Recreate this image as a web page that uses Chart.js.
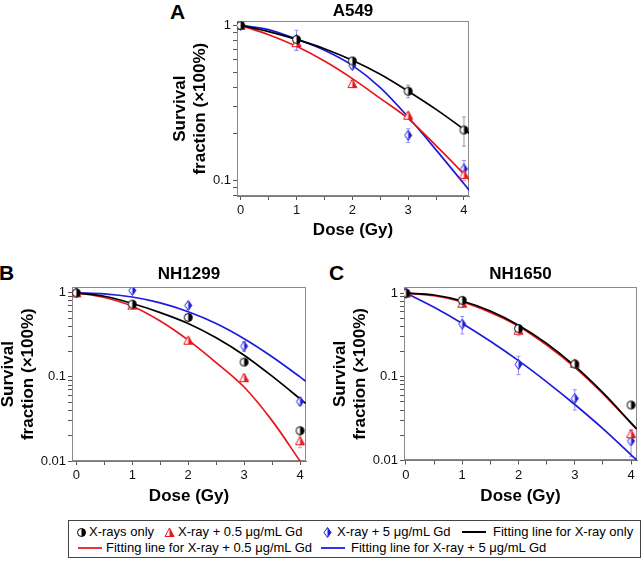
<!DOCTYPE html>
<html>
<head>
<meta charset="utf-8">
<script src="https://cdn.jsdelivr.net/npm/chart.js@4.4.1/dist/chart.umd.min.js"></script>
<style>
  body { margin: 0; background: #fff; width: 643px; height: 561px; position: relative; overflow: hidden;
         font-family: "Liberation Sans", Arial, sans-serif; color: #000; }
  .panel { position: absolute; }
  .letter { position: absolute; font-weight: bold; font-size: 21px; line-height: 21px; }
  .lg { position: absolute; font-size: 13px; line-height: 16px; white-space: nowrap; }
  .ln { position: absolute; height: 2px; width: 24px; }
  #legendBox { position: absolute; left: 68px; top: 520px; width: 571px; height: 36px; border: 1px solid #444; }
</style>
</head>
<body>

<div class="letter" style="left:170px;top:1px">A</div>
<div class="letter" style="left:-1px;top:262px">B</div>
<div class="letter" style="left:329px;top:262px">C</div>

<div class="panel" style="left:170px;top:0px"><canvas id="chartA" width="305" height="245"></canvas></div>
<div class="panel" style="left:-2px;top:264px"><canvas id="chartB" width="314" height="245"></canvas></div>
<div class="panel" style="left:330px;top:264px"><canvas id="chartC" width="313" height="245"></canvas></div>

<div id="legendBox"></div>
<div class="lg" style="left:89px;top:524px">X-rays only</div>
<div class="lg" style="left:178px;top:524px">X-ray + 0.5 μg/mL Gd</div>
<div class="lg" style="left:337px;top:524px">X-ray + 5 μg/mL Gd</div>
<div class="ln" style="left:462px;top:531px;background:#000"></div>
<div class="lg" style="left:493px;top:524px">Fitting line for X-ray only</div>
<div class="ln" style="left:78px;top:547px;background:#ee3333"></div>
<div class="lg" style="left:106px;top:540px">Fitting line for X-ray + 0.5 μg/mL Gd</div>
<div class="ln" style="left:321px;top:547px;background:#3333ee"></div>
<div class="lg" style="left:351px;top:540px">Fitting line for X-ray + 5 μg/mL Gd</div>

<script>
var FONT = '"Liberation Sans", Arial, sans-serif';

var doses = [0, 1, 2, 3, 4];
var fitDoses = [0, 0.5, 1, 1.5, 2, 2.5, 3, 3.5, 4, 4.1];
var xTicks = [0, 0.5, 1, 1.5, 2, 2.5, 3, 3.5, 4];
var yTicksA = [0.08, 0.09, 0.1, 0.2, 0.3, 0.4, 0.5, 0.6, 0.7, 0.8, 0.9, 1];
var yTicksBC = [0.01, 0.02, 0.03, 0.04, 0.05, 0.06, 0.07, 0.08, 0.09,
                0.1, 0.2, 0.3, 0.4, 0.5, 0.6, 0.7, 0.8, 0.9, 1];

// A549
var a549Xray = [1, 0.81, 0.59, 0.377, 0.212];
var a549XrayErr = [0.01, 0.03, 0.03, 0.035, 0.045];
var a549Low = [1, 0.774, 0.422, 0.264, 0.11];
var a549LowErr = [0, 0.08, 0.02, 0.01, 0.01];
var a549High = [1, 0.81, 0.553, 0.196, 0.119];
var a549HighErr = [0.01, 0.12, 0.03, 0.02, 0.016];
var a549XrayFit = [1, 0.912, 0.813, 0.708, 0.596, 0.484, 0.377, 0.288, 0.214, 0.201];
var a549LowFit = [1, 0.871, 0.733, 0.589, 0.454, 0.339, 0.251, 0.168, 0.11, 0.1007];
var a549HighFit = [1, 0.94, 0.815, 0.692, 0.553, 0.398, 0.257, 0.158, 0.0955, 0.0863];

// NH1299
var nh1299Xray = [1, 0.733, 0.509, 0.15, 0.0229];
var nh1299XrayErr = [0.02, 0.03, 0.03, 0.01, 0.002];
var nh1299Low = [1, 0.713, 0.273, 0.098, 0.0174];
var nh1299LowErr = [0.03, 0.06, 0.02, 0.008, 0.003];
var nh1299High = [1, 1.066, 0.707, 0.232, 0.051];
var nh1299HighErr = [0.02, 0.03, 0.04, 0.03, 0.005];
var nh1299XrayFit = [1, 0.91, 0.746, 0.582, 0.432, 0.292, 0.181, 0.102, 0.055, 0.0485];
var nh1299LowFit = [1, 0.88, 0.693, 0.462, 0.274, 0.148, 0.0759, 0.0302, 0.01, 0.008];
var nh1299HighFit = [1, 0.973, 0.891, 0.759, 0.596, 0.432, 0.285, 0.174, 0.1, 0.089];

// NH1650
var nh1650Xray = [1, 0.82, 0.377, 0.142, 0.046];
var nh1650XrayErr = [0.02, 0.04, 0.04, 0.01, 0.003];
var nh1650Low = [1, 0.757, 0.36, 0.145, 0.0209];
var nh1650LowErr = [0.03, 0.08, 0.05, 0.012, 0.002];
var nh1650High = [1, 0.426, 0.141, 0.055, 0.0171];
var nh1650HighErr = [0.03, 0.1, 0.035, 0.015, 0.006];
var nh1650XrayFit = [1, 0.95, 0.806, 0.611, 0.414, 0.251, 0.135, 0.0646, 0.0282, 0.0239];
var nh1650LowFit = [1, 0.93, 0.785, 0.589, 0.403, 0.24, 0.13, 0.0631, 0.0278, 0.0236];
var nh1650HighFit = [1, 0.676, 0.434, 0.266, 0.156, 0.0871, 0.0467, 0.024, 0.0117, 0.0102];

var BLACK = '#000000';
var RED = '#e8161c';
var BLUE = '#1c1cdc';

// half filled markers like the ones in the figure
function makeMarker(shape, color) {
    var c = document.createElement('canvas');
    c.width = 11;
    c.height = 11;
    var g = c.getContext('2d');
    function path() {
        g.beginPath();
        if (shape === 'circle') {
            g.arc(5.5, 5.5, 4, 0, Math.PI * 2);
        } else if (shape === 'triangle') {
            g.moveTo(5.5, 1); g.lineTo(10, 9.5); g.lineTo(1, 9.5); g.closePath();
        } else {
            g.moveTo(5.5, 0.5); g.lineTo(9, 5.5); g.lineTo(5.5, 10.5); g.lineTo(2, 5.5); g.closePath();
        }
    }
    path();
    g.fillStyle = '#fff';
    g.fill();
    g.save();
    path();
    g.clip();
    g.fillStyle = color;
    g.fillRect(5.5, 0, 6, 11);
    g.restore();
    path();
    g.lineWidth = 1;
    g.strokeStyle = color;
    g.stroke();
    return c;
}

var circleMk = makeMarker('circle', BLACK);
var triMk = makeMarker('triangle', RED);
var diaMk = makeMarker('diamond', BLUE);

// legend markers
[['circle', BLACK, 81], ['triangle', RED, 169], ['diamond', BLUE, 327]].forEach(function (m) {
    var c = makeMarker(m[0], m[1]);
    c.style.position = 'absolute';
    c.style.left = (m[2] - 5.5) + 'px';
    c.style.top = (532 - 5.5) + 'px';
    document.body.appendChild(c);
});

// frame around the plot area
var frame = {
    id: 'frame',
    beforeDatasetsDraw: function (chart) {
        var a = chart.chartArea, ctx = chart.ctx;
        ctx.save();
        ctx.strokeStyle = '#8a8a8a';
        ctx.lineWidth = 1;
        ctx.strokeRect(Math.round(a.left) + 0.5, Math.round(a.top) + 0.5,
                       Math.round(a.width) - 1, Math.round(a.height) - 1);
        ctx.restore();
    }
};

// vertical error bars
var errorBars = {
    id: 'errorBars',
    beforeDatasetsDraw: function (chart) {
        var ctx = chart.ctx, xs = chart.scales.x, ys = chart.scales.y;
        chart.data.datasets.forEach(function (ds) {
            if (!ds.errors) return;
            ctx.save();
            ctx.strokeStyle = ds.errColor;
            ctx.lineWidth = 1;
            ds.data.forEach(function (p, i) {
                var e = ds.errors[i];
                if (!e) return;
                var px = xs.getPixelForValue(p.x);
                var top = ys.getPixelForValue(p.y + e);
                var bot = ys.getPixelForValue(Math.max(p.y - e, 0.0001));
                ctx.beginPath();
                ctx.moveTo(px, top); ctx.lineTo(px, bot);
                ctx.moveTo(px - 2, top); ctx.lineTo(px + 2, top);
                ctx.moveTo(px - 2, bot); ctx.lineTo(px + 2, bot);
                ctx.stroke();
            });
            ctx.restore();
        });
    }
};

function toXY(xs, ys) {
    return xs.map(function (x, i) { return {x: x, y: ys[i]}; });
}

function pointSet(label, ys, errs, marker, errColor) {
    return {
        label: label,
        data: toXY(doses, ys),
        pointStyle: marker,
        pointRadius: 5,
        showLine: false,
        errors: errs,
        errColor: errColor
    };
}

function fitSet(label, ys, color) {
    return {
        label: label,
        data: toXY(fitDoses, ys),
        showLine: true,
        borderColor: color,
        borderWidth: 1.7,
        pointRadius: 0,
        cubicInterpolationMode: 'monotone'
    };
}

function makeChart(id, title, sets, cfg) {
    return new Chart(document.getElementById(id), {
        type: 'scatter',
        data: {
            datasets: [
                pointSet('X-rays only', sets[0], sets[1], circleMk, '#9a9a9a'),
                pointSet('X-ray + 0.5 μg/mL Gd', sets[2], sets[3], triMk, '#f09090'),
                pointSet('X-ray + 5 μg/mL Gd', sets[4], sets[5], diaMk, '#9090f0'),
                fitSet('Fitting line for X-ray only', sets[6], BLACK),
                fitSet('Fitting line for X-ray + 0.5 μg/mL Gd', sets[7], RED),
                fitSet('Fitting line for X-ray + 5 μg/mL Gd', sets[8], BLUE)
            ]
        },
        options: {
            responsive: false,
            animation: false,
            devicePixelRatio: 1,
            layout: {padding: {left: 0, right: cfg.padRight, top: 0, bottom: 0}},
            plugins: {
                legend: {display: false},
                tooltip: {enabled: false},
                title: {
                    display: true,
                    text: title,
                    fullSize: false,
                    color: '#000',
                    font: {size: 17, weight: 'bold', family: FONT},
                    padding: cfg.titlePad
                }
            },
            scales: {
                x: {
                    type: 'linear',
                    min: cfg.xMin,
                    max: cfg.xMax,
                    afterBuildTicks: function (s) { s.ticks = xTicks.map(function (v) { return {value: v}; }); },
                    afterFit: function (s) { s.height = cfg.xHeight; },
                    ticks: {
                        autoSkip: false, maxRotation: 0, padding: 3, color: '#111',
                        font: {size: 13, family: FONT},
                        callback: function (v) { return Number.isInteger(v) ? String(v) : ''; }
                    },
                    grid: {drawOnChartArea: false, tickLength: 4, color: '#555'},
                    border: {color: '#777'},
                    title: {
                        display: true, text: 'Dose (Gy)', color: '#000',
                        font: {size: 17, weight: 'bold', family: FONT},
                        padding: {top: 0, bottom: cfg.xTitlePad}
                    }
                },
                y: {
                    type: 'logarithmic',
                    min: cfg.yMin,
                    max: cfg.yMax,
                    afterBuildTicks: function (s) { s.ticks = cfg.yTicks.map(function (v) { return {value: v}; }); },
                    afterFit: function (s) { s.width = cfg.yWidth; },
                    ticks: {
                        autoSkip: false, padding: 2, color: '#111',
                        font: {size: 13, family: FONT},
                        callback: function (v) {
                            var l = Math.log10(v);
                            return Math.abs(l - Math.round(l)) < 1e-6 ? String(v) : '';
                        }
                    },
                    grid: {drawOnChartArea: false, tickLength: 4, color: '#555'},
                    border: {color: '#777'},
                    title: {
                        display: true, text: ['Survival', 'fraction (×100%)'], color: '#000',
                        font: {size: 17, weight: 'bold', family: FONT, lineHeight: 1.2},
                        padding: {top: 0, bottom: 0}
                    }
                }
            }
        },
        plugins: [frame, errorBars]
    });
}

var chartA = makeChart('chartA', 'A549',
    [a549Xray, a549XrayErr, a549Low, a549LowErr, a549High, a549HighErr, a549XrayFit, a549LowFit, a549HighFit],
    {padRight: 4, titlePad: {top: 1, bottom: 0}, xMin: -0.066, xMax: 4.09, xHeight: 49, xTitlePad: 4.8,
     yMin: 0.0797, yMax: 1.061, yTicks: yTicksA, yWidth: 67});

var chartB = makeChart('chartB', 'NH1299',
    [nh1299Xray, nh1299XrayErr, nh1299Low, nh1299LowErr, nh1299High, nh1299HighErr, nh1299XrayFit, nh1299LowFit, nh1299HighFit],
    {padRight: 4, titlePad: {top: 0, bottom: 3}, xMin: -0.078, xMax: 4.107, xHeight: 48, xTitlePad: 2.8,
     yMin: 0.01, yMax: 1.16, yTicks: yTicksBC, yWidth: 74});

var chartC = makeChart('chartC', 'NH1650',
    [nh1650Xray, nh1650XrayErr, nh1650Low, nh1650LowErr, nh1650High, nh1650HighErr, nh1650XrayFit, nh1650LowFit, nh1650HighFit],
    {padRight: 5, titlePad: {top: 0, bottom: 3}, xMin: -0.035, xMax: 4.106, xHeight: 48.5, xTitlePad: 2.8,
     yMin: 0.01, yMax: 1.17, yTicks: yTicksBC, yWidth: 74});
</script>
</body>
</html>
